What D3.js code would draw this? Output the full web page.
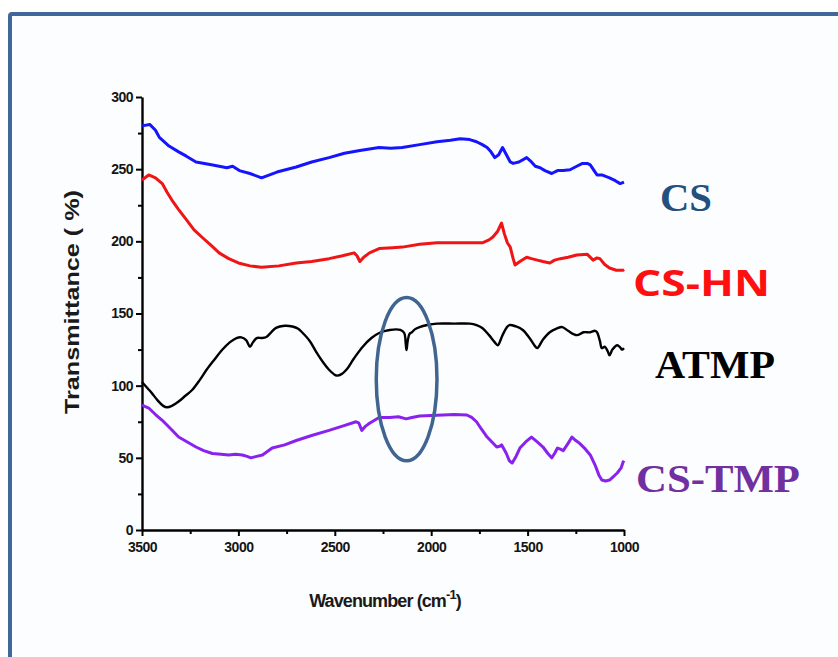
<!DOCTYPE html>
<html>
<head>
<meta charset="utf-8">
<script src="https://cdn.jsdelivr.net/npm/d3@7"></script>
<style>
  html, body { margin: 0; padding: 0; background: #ffffff; }
  svg { display: block; }
</style>
</head>
<body>
<svg id="chart" width="838" height="657"></svg>
<script>
// FTIR spectra: [wavenumber (cm-1), transmittance (%)], stacked with offsets
const csSpectrum = [
  [3500,280],[3460,281],[3430,277],[3410,272],[3360,266],[3310,262],[3270,259],[3220,255],
  [3140,253],[3060,251],[3030,252],[2995,249],[2940,247],[2880,244],[2800,248],[2700,251.5],
  [2620,255],[2530,258],[2450,261],[2370,263],[2320,264],[2270,265],[2210,264.5],[2150,265],
  [2060,267],[1970,269],[1900,270],[1850,271],[1800,270.5],[1765,269],[1735,267],[1710,265],
  [1690,262],[1670,258],[1650,260],[1630,265],[1610,260],[1590,255],[1575,254],[1545,255],
  [1505,258],[1480,255],[1460,252],[1435,251],[1410,249],[1375,247],[1345,249],[1315,249],
  [1280,249.6],[1245,252],[1215,254],[1190,254],[1175,253],[1155,249],[1140,246],[1115,246],
  [1075,244],[1045,242],[1020,240],[1000,241]
];
const cshnSpectrum = [
  [3500,242.5],[3465,246],[3430,244],[3395,240],[3370,234],[3345,228.6],[3310,222],[3270,215],
  [3230,208],[3190,203],[3140,197],[3100,192],[3050,188],[3000,185],[2940,183],[2880,182],
  [2790,183],[2700,185],[2620,186],[2530,188],[2460,190],[2400,192],[2385,190],[2370,186],
  [2350,189],[2320,192],[2270,195],[2200,195.5],[2150,196],[2060,198],[1970,199],[1850,199],
  [1735,199],[1700,201],[1680,203],[1655,207],[1635,212.7],[1620,205],[1605,199],[1590,196],
  [1575,188],[1565,183.6],[1540,186],[1505,189],[1480,188],[1450,187],[1420,186],[1385,185],
  [1360,187],[1330,188],[1290,189],[1245,190.5],[1190,191],[1160,187],[1140,188.5],[1125,188],
  [1100,184],[1075,181.5],[1040,180],[1005,180],[1000,180.5]
];
const atmpSpectrum = [
  [3500,102.5],[3470,98],[3450,95],[3420,90],[3390,86],[3370,85],[3345,86],[3310,89],
  [3275,93],[3240,97],[3200,104],[3165,111],[3125,118],[3085,124.7],[3045,130],[3010,133],
  [2985,133.5],[2960,131.6],[2940,127],[2925,130],[2905,133],[2880,133],[2855,133.7],[2830,137],
  [2805,140],[2760,141.5],[2720,141],[2690,139.5],[2670,137],[2630,131],[2595,123],[2560,116],
  [2530,111],[2505,108],[2490,107],[2465,108],[2440,111],[2400,119],[2355,127],[2310,133],
  [2270,136.5],[2215,138.6],[2160,138.6],[2140,136.5],[2132,129],[2128,124.7],[2122,131],
  [2112,136],[2100,137],[2085,139],[2060,140.6],[2020,142],[1970,143],[1880,143],[1800,143],
  [1765,142],[1735,140],[1700,135],[1670,130],[1655,128],[1630,135],[1610,140],[1595,142],
  [1560,141],[1525,138.6],[1490,133],[1465,128],[1450,126],[1420,132],[1385,137],[1350,139.5],
  [1320,140.6],[1290,138],[1245,135],[1210,137],[1175,137],[1150,138],[1140,137],[1125,131],
  [1115,126],[1100,127],[1085,124],[1075,121],[1060,125],[1035,128],[1020,126.5],[1010,125],
  [1000,126]
];
const cstmpSpectrum = [
  [3500,86.6],[3465,84.5],[3430,80],[3395,76],[3350,70],[3310,64.4],[3265,61],[3220,57.5],
  [3180,55],[3135,53],[3090,52.5],[3050,52],[3015,52.5],[2980,52],[2955,51],[2935,50],
  [2905,51],[2875,52],[2825,56.8],[2760,59],[2700,62],[2620,65.5],[2530,69],[2460,72],
  [2390,75],[2375,74],[2360,69],[2340,72],[2320,74],[2270,78],[2215,78],[2170,78.5],
  [2130,77],[2100,78],[2060,79],[1970,79.5],[1880,80],[1815,79.7],[1790,78],[1765,75],
  [1740,70],[1710,64.4],[1685,61],[1660,57.5],[1645,58],[1635,59],[1610,53],[1595,48],
  [1580,46.4],[1560,51],[1540,56.8],[1510,61],[1480,64.4],[1450,61],[1420,57.5],[1395,53],
  [1375,50],[1360,53],[1345,56.8],[1330,56],[1315,55],[1290,60],[1270,64.4],[1250,62],
  [1230,60],[1200,56],[1175,52],[1150,45],[1130,38],[1115,34.6],[1095,34],[1075,34.6],
  [1055,37],[1035,39.5],[1015,43],[1005,47],[1000,48]
];

const seriesNames  = ["CS", "CS-HN", "ATMP", "CS-TMP"];
const seriesData   = [csSpectrum, cshnSpectrum, atmpSpectrum, cstmpSpectrum];
const seriesColors = ["#1414ff", "#f01414", "#000000", "#8a22ee"];

const xTicks      = [3500, 3000, 2500, 2000, 1500, 1000];
const xMinorTicks = [3250, 2750, 2250, 1750, 1250];
const yTicks      = [0, 50, 100, 150, 200, 250, 300];
const yMinorTicks = [25, 75, 125, 175, 225, 275];

// Labels placed beside each trace
const labelTexts  = ["CS", "CS-HN", "ATMP", "CS-TMP"];
const labelColors = ["#24507e", "#ff1010", "#000000", "#7030a0"];

const svg = d3.select("#chart");

// Panel with a blue frame
svg.append("rect").attr("x", 0).attr("y", 0).attr("width", 838).attr("height", 657).attr("fill", "#ffffff");
svg.append("rect")
  .attr("x", 10).attr("y", 14).attr("width", 850).attr("height", 660)
  .attr("rx", 2)
  .attr("fill", "#fcfdfe")
  .attr("stroke", "#41679a")
  .attr("stroke-width", 4);

const x = d3.scaleLinear().domain([3500, 1000]).range([142, 624]);
const y = d3.scaleLinear().domain([0, 300]).range([530, 97]);

const tickFont = "'Liberation Sans', Arial, sans-serif";

// Y axis
svg.append("g").attr("transform", `translate(${x(3500)},0)`)
  .call(d3.axisLeft(y).tickValues(yTicks).tickSize(6).tickSizeOuter(0).tickPadding(3));
const yMinor = svg.append("g").attr("transform", `translate(${x(3500)},0)`)
  .call(d3.axisLeft(y).tickValues(yMinorTicks).tickSize(4).tickFormat(""));
yMinor.select(".domain").remove();

// X axis
svg.append("g").attr("transform", `translate(0,${y(0)})`)
  .call(d3.axisBottom(x).tickValues(xTicks).tickSize(6).tickSizeOuter(0).tickPadding(6).tickFormat(d3.format("d")));
const xMinor = svg.append("g").attr("transform", `translate(0,${y(0)})`)
  .call(d3.axisBottom(x).tickValues(xMinorTicks).tickSize(4).tickFormat(""));
xMinor.select(".domain").remove();

svg.selectAll(".domain").attr("stroke", "#000").attr("stroke-width", 2.4);
svg.selectAll(".tick line").attr("stroke", "#000").attr("stroke-width", 2);
svg.selectAll(".tick text")
  .attr("fill", "#151515")
  .style("font-family", tickFont)
  .style("font-weight", "bold")
  .style("font-size", "14px")
  .style("letter-spacing", "-0.5px");

// Axis titles
svg.append("text")
  .attr("transform", `translate(79,302) rotate(-90)`)
  .attr("text-anchor", "middle")
  .attr("textLength", 224)
  .attr("lengthAdjust", "spacingAndGlyphs")
  .style("font-family", tickFont)
  .style("font-weight", "bold")
  .style("font-size", "20px")
  .attr("fill", "#1a1a1a")
  .text("Transmittance ( %)");

const xTitle = svg.append("text")
  .attr("x", 385).attr("y", 607)
  .attr("text-anchor", "middle")
  .style("font-family", tickFont)
  .style("font-weight", "bold")
  .style("font-size", "18px")
  .style("letter-spacing", "-0.9px")
  .attr("fill", "#1a1a1a");
xTitle.append("tspan").text("Wavenumber (cm");
xTitle.append("tspan").attr("dy", -8).style("font-size", "13px").text("-1");
xTitle.append("tspan").attr("dy", 8).text(")");

// Spectra
const line = d3.line().x(d => x(d[0])).y(d => y(d[1]));
seriesData.forEach((data, i) => {
  svg.append("path")
    .datum(data)
    .attr("fill", "none")
    .attr("stroke", seriesColors[i])
    .attr("stroke-width", i === 2 ? 2.4 : 3)
    .attr("stroke-linejoin", "round")
    .attr("d", line.curve(i === 2 ? d3.curveCatmullRom : d3.curveLinear));
});

// Highlight around the 2130 cm-1 band
const hlW = [2285, 1970], hlT = [48, 161];
svg.append("ellipse")
  .attr("cx", (x(hlW[0]) + x(hlW[1])) / 2)
  .attr("cy", (y(hlT[0]) + y(hlT[1])) / 2)
  .attr("rx", Math.abs(x(hlW[1]) - x(hlW[0])) / 2)
  .attr("ry", Math.abs(y(hlT[0]) - y(hlT[1])) / 2)
  .attr("fill", "none")
  .attr("stroke", "#3f6590")
  .attr("stroke-width", 3.5);

// Trace labels
const labelPos = [
  { x: 660, y: 211, font: "'Liberation Serif', 'Times New Roman', serif", len: 52 },
  { x: 633, y: 296, font: "'Open Sans', 'Liberation Sans', sans-serif", len: 137 },
  { x: 655, y: 378, font: "'Liberation Serif', 'Times New Roman', serif", len: 120 },
  { x: 636, y: 492, font: "'Liberation Serif', 'Times New Roman', serif", len: 164 }
];
labelTexts.forEach((t, i) => {
  svg.append("text")
    .attr("x", labelPos[i].x).attr("y", labelPos[i].y)
    .attr("textLength", labelPos[i].len)
    .attr("lengthAdjust", "spacingAndGlyphs")
    .style("font-family", labelPos[i].font)
    .style("font-weight", "bold")
    .style("font-size", i === 1 ? "36px" : "40px")
    .attr("fill", labelColors[i])
    .text(t);
});
</script>
</body>
</html>
